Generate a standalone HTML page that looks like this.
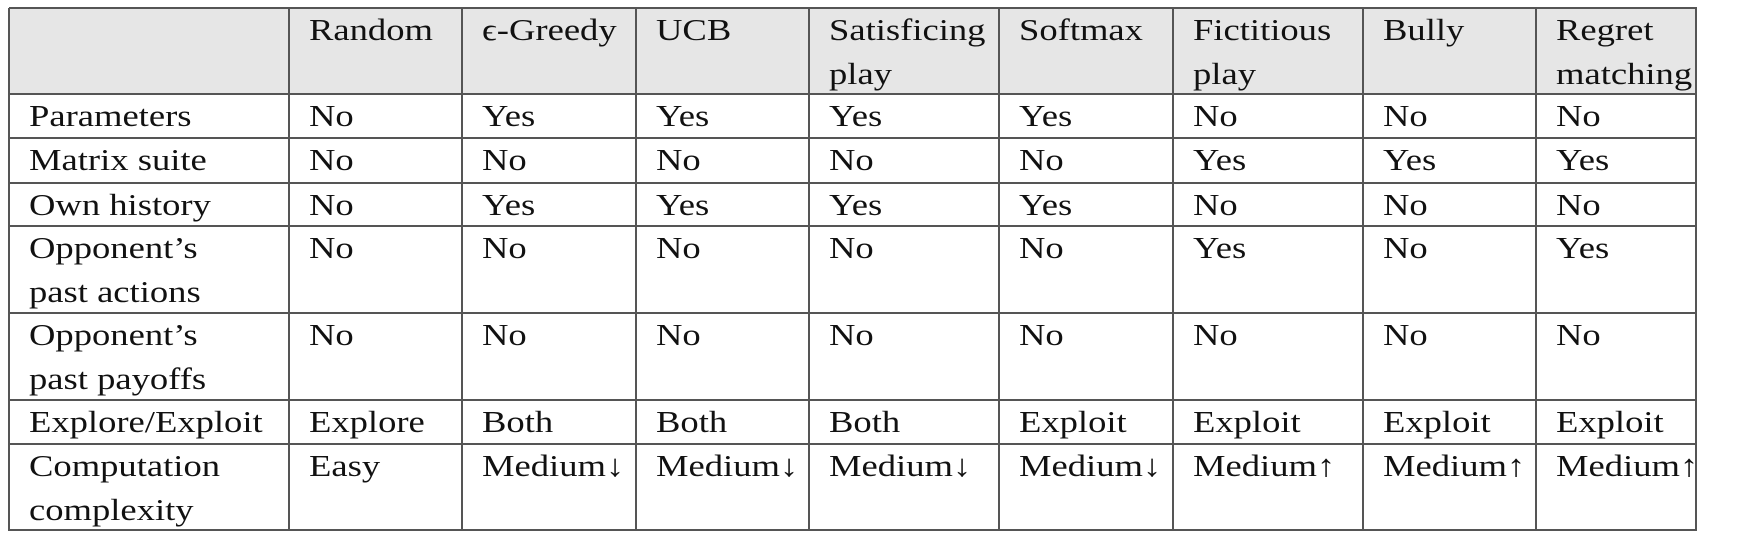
<!DOCTYPE html>
<html><head><meta charset="utf-8"><style>
body{margin:0;background:#fff;width:1738px;height:542px;position:relative;overflow:hidden;font-family:"Liberation Serif","DejaVu Serif",serif;}
.h{position:absolute;left:9px;top:8px;width:1687px;height:86px;background:#e6e6e6;}
.v{position:absolute;width:2px;background:#555;top:8px;height:523px;}
.r{position:absolute;height:2px;background:#555;left:9px;width:1688px;}
.t{position:absolute;font-size:31px;line-height:43.5px;color:#111;white-space:nowrap;transform:scaleX(1.18);transform-origin:0 0;}
</style></head><body>
<div class="h"></div>
<div class="r" style="top:7px"></div>
<div class="r" style="top:93px"></div>
<div class="r" style="top:137px"></div>
<div class="r" style="top:182px"></div>
<div class="r" style="top:225px"></div>
<div class="r" style="top:312px"></div>
<div class="r" style="top:399px"></div>
<div class="r" style="top:443px"></div>
<div class="r" style="top:529px"></div>
<div class="v" style="left:8px"></div>
<div class="v" style="left:288px"></div>
<div class="v" style="left:461px"></div>
<div class="v" style="left:635px"></div>
<div class="v" style="left:808px"></div>
<div class="v" style="left:998px"></div>
<div class="v" style="left:1172px"></div>
<div class="v" style="left:1362px"></div>
<div class="v" style="left:1535px"></div>
<div class="v" style="left:1695px"></div>
<div id="c"></div>
<script>
var cols=[29,309,482,656,829,1019,1193,1383,1556];
var tops=[8,94,138,183,226,313,400,444];
var data=[
["","Random","&#1013;-Greedy","UCB","Satisficing<br>play","Softmax","Fictitious<br>play","Bully","Regret<br>matching"],
["Parameters","No","Yes","Yes","Yes","Yes","No","No","No"],
["Matrix suite","No","No","No","No","No","Yes","Yes","Yes"],
["Own history","No","Yes","Yes","Yes","Yes","No","No","No"],
["Opponent’s<br>past actions","No","No","No","No","No","Yes","No","Yes"],
["Opponent’s<br>past payoffs","No","No","No","No","No","No","No","No"],
["Explore/Exploit","Explore","Both","Both","Both","Exploit","Exploit","Exploit","Exploit"],
["Computation<br>complexity","Easy","Medium↓","Medium↓","Medium↓","Medium↓","Medium↑","Medium↑","Medium↑"]];
var h="";
for(var i=0;i<data.length;i++)for(var j=0;j<9;j++){
h+='<div class="t" style="left:'+cols[j]+'px;top:'+(tops[i])+'px">'+data[i][j]+'</div>';}
document.getElementById("c").innerHTML=h;
</script>
</body></html>
